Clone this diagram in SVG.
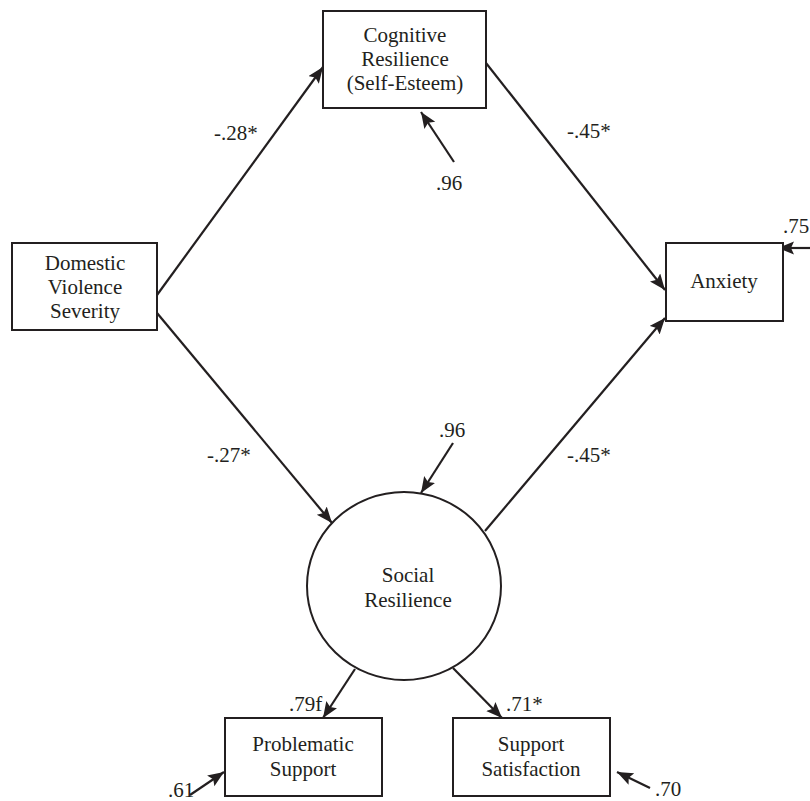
<svg xmlns="http://www.w3.org/2000/svg" width="810" height="801" viewBox="0 0 810 801">
<style>
.box{fill:#fff;stroke:#231f20;stroke-width:2}
.t{font-family:"Liberation Serif","Times New Roman",serif;font-size:21px;fill:#231f20}
.c{text-anchor:middle}
.ln{stroke:#231f20;stroke-width:2.2;fill:none;marker-end:url(#ah)}
</style>
<defs>
<marker id="ah" markerUnits="userSpaceOnUse" markerWidth="18" markerHeight="14" refX="16" refY="6.5" orient="auto">
<path d="M0,0 L16,6.5 L0,13 L3,6.5 z" fill="#231f20"/>
</marker>
</defs>
<rect width="810" height="801" fill="#fff"/>
<g id="connectors">
<line class="ln" x1="157" y1="295" x2="323" y2="67"/>
<line class="ln" x1="157" y1="313" x2="332" y2="523"/>
<line class="ln" x1="486" y1="63" x2="665" y2="290"/>
<line class="ln" x1="485" y1="531" x2="665" y2="318"/>
<line class="ln" x1="355" y1="669" x2="323" y2="718"/>
<line class="ln" x1="453" y1="668" x2="502" y2="718"/>
<line class="ln" x1="454" y1="162" x2="421" y2="112"/>
<line class="ln" x1="453" y1="443" x2="421" y2="493"/>
<line class="ln" x1="810" y1="248" x2="778" y2="248"/>
<line class="ln" x1="650" y1="788" x2="617" y2="772"/>
<line class="ln" x1="190" y1="795" x2="224" y2="772"/>
</g>
<g id="labels">
<text class="t" x="214" y="140">-.28*</text>
<text class="t" x="567" y="138">-.45*</text>
<text class="t" x="207" y="462">-.27*</text>
<text class="t" x="567" y="462">-.45*</text>
<text class="t" x="436" y="190">.96</text>
<text class="t" x="439" y="437">.96</text>
<text class="t" x="783" y="233">.75</text>
<text class="t" x="289" y="711">.79f</text>
<text class="t" x="506" y="711">.71*</text>
<text class="t" x="655" y="796">.70</text>
<text class="t" x="168" y="797">.61</text>
</g>
<g id="cognitive">
<rect class="box" x="323" y="11" width="163" height="97"/>
<text class="t c" x="405" y="42">Cognitive</text>
<text class="t c" x="405" y="66">Resilience</text>
<text class="t c" x="405" y="90">(Self-Esteem)</text>
</g>
<g id="domestic">
<rect class="box" x="12" y="243" width="145" height="87"/>
<text class="t c" x="85" y="270">Domestic</text>
<text class="t c" x="85" y="294">Violence</text>
<text class="t c" x="85" y="318">Severity</text>
</g>
<g id="anxiety">
<rect class="box" x="666" y="243" width="117" height="78"/>
<text class="t c" x="724" y="288">Anxiety</text>
</g>
<g id="social">
<ellipse cx="404" cy="586" rx="97" ry="94" fill="none" stroke="#231f20" stroke-width="2"/>
<text class="t c" x="408" y="582">Social</text>
<text class="t c" x="408" y="607">Resilience</text>
</g>
<g id="problematic">
<rect class="box" x="225" y="718" width="157" height="78"/>
<text class="t c" x="303" y="751">Problematic</text>
<text class="t c" x="303" y="776">Support</text>
</g>
<g id="satisfaction">
<rect class="box" x="453" y="718" width="157" height="78"/>
<text class="t c" x="531" y="751">Support</text>
<text class="t c" x="531" y="776">Satisfaction</text>
</g>
</svg>
